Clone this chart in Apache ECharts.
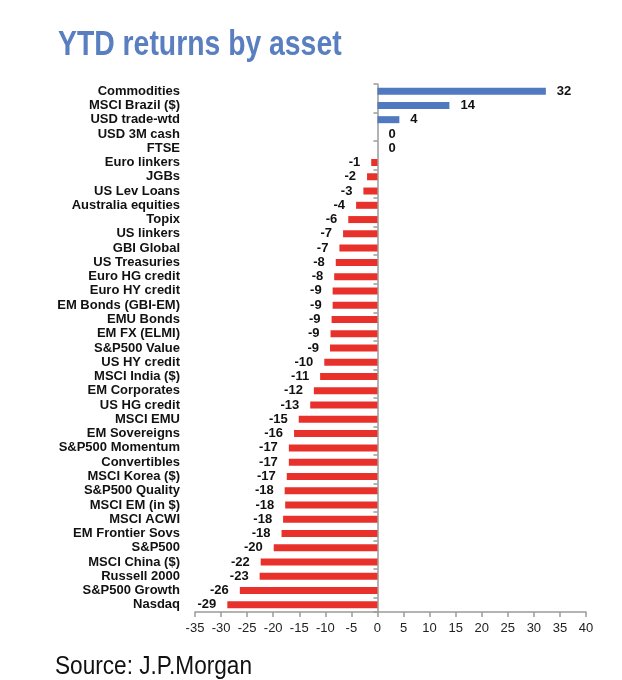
<!DOCTYPE html>
<html>
<head>
<meta charset="utf-8">
<title>YTD returns by asset</title>
<script src="https://cdn.jsdelivr.net/npm/echarts@6/dist/echarts.min.js"></script>
<style>
  html, body { margin: 0; padding: 0; background: #fff; }
  #chart { width: 622px; height: 680px; }
</style>
</head>
<body>
<div id="chart"></div>
<script>
// categories, top to bottom
const assets = [
    "Commodities", "MSCI Brazil ($)", "USD trade-wtd", "USD 3M cash", "FTSE",
    "Euro linkers", "JGBs", "US Lev Loans", "Australia equities", "Topix",
    "US linkers", "GBI Global", "US Treasuries", "Euro HG credit", "Euro HY credit",
    "EM Bonds (GBI-EM)", "EMU Bonds", "EM FX (ELMI)", "S&P500 Value", "US HY credit",
    "MSCI India ($)", "EM Corporates", "US HG credit", "MSCI EMU", "EM Sovereigns",
    "S&P500 Momentum", "Convertibles", "MSCI Korea ($)", "S&P500 Quality", "MSCI EM (in $)",
    "MSCI ACWI", "EM Frontier Sovs", "S&P500", "MSCI China ($)", "Russell 2000",
    "S&P500 Growth", "Nasdaq"
];

// bar lengths (%)
const returns = [
    32.3, 13.8, 4.2, 0, 0,
    -1.2, -2.0, -2.7, -4.1, -5.6,
    -6.6, -7.3, -8.0, -8.3, -8.6,
    -8.6, -8.8, -9.0, -9.1, -10.2,
    -11.0, -12.2, -12.9, -15.1, -16.0,
    -17.0, -17.0, -17.4, -17.8, -17.7,
    -18.1, -18.4, -19.9, -22.4, -22.6,
    -26.4, -28.8
];

// printed labels next to the bars
const printed = [
    32, 14, 4, 0, 0,
    -1, -2, -3, -4, -6,
    -7, -7, -8, -8, -9,
    -9, -9, -9, -9, -10,
    -11, -12, -13, -15, -16,
    -17, -17, -17, -18, -18,
    -18, -18, -20, -22, -23,
    -26, -29
];

const xMin = -35, xMax = 40, xStep = 5;

const FONT = "'Liberation Sans', Arial, sans-serif";
const BLUE = "#5179bf";
const RED = "#e8312b";
const GREY = "#9a9a9a";

const chart = echarts.init(document.getElementById("chart"), null, { renderer: "canvas" });

const barData = returns.map(v => ({
    value: v,
    itemStyle: { color: v >= 0 ? BLUE : RED },
    label: { position: v >= 0 ? "right" : "left" }
}));

const option = {
    animation: false,
    backgroundColor: "#fff",
    grid: { left: 195, right: 36, top: 84, bottom: 68, containLabel: false },
    xAxis: {
        type: "value",
        min: xMin,
        max: xMax,
        interval: xStep,
        splitLine: { show: false },
        axisLine: { show: true, onZero: false, lineStyle: { color: GREY, width: 1.5 } },
        axisTick: { show: true, length: 5, lineStyle: { color: GREY, width: 1.5 } },
        axisLabel: { color: "#222", fontFamily: FONT, fontSize: 13, margin: 10 }
    },
    yAxis: [
        {
            // the axis line sitting at zero, with its ticks
            type: "category",
            data: assets,
            inverse: true,
            axisLine: { show: true, onZero: true, lineStyle: { color: GREY, width: 1.5 } },
            axisTick: { show: true, length: 4, lineStyle: { color: GREY, width: 1.5 } },
            axisLabel: { show: false }
        },
        {
            // asset names down the left side
            type: "category",
            data: assets,
            inverse: true,
            position: "left",
            axisLine: { show: false, onZero: false },
            axisTick: { show: false },
            axisLabel: {
                interval: 0,
                color: "#111",
                fontFamily: FONT,
                fontWeight: "bold",
                fontSize: 13,
                margin: 15
            }
        }
    ],
    series: [
        {
            type: "bar",
            yAxisIndex: 0,
            data: barData,
            barWidth: 7,
            label: {
                show: true,
                distance: 11,
                color: "#111",
                fontFamily: FONT,
                fontWeight: "bold",
                fontSize: 13,
                formatter: p => String(printed[p.dataIndex])
            }
        }
    ],
    graphic: [
        {
            // title, squeezed to look like the narrow face of the original
            type: "text",
            left: 58,
            top: 28,
            scaleX: 0.81,
            style: {
                text: "YTD returns by asset",
                fill: "#5a7fc0",
                font: "bold 35px " + FONT
            }
        },
        {
            type: "text",
            left: 55,
            top: 654,
            scaleX: 0.87,
            style: {
                text: "Source: J.P.Morgan",
                fill: "#111",
                font: "26px " + FONT
            }
        }
    ]
};

chart.setOption(option);
</script>
</body>
</html>
